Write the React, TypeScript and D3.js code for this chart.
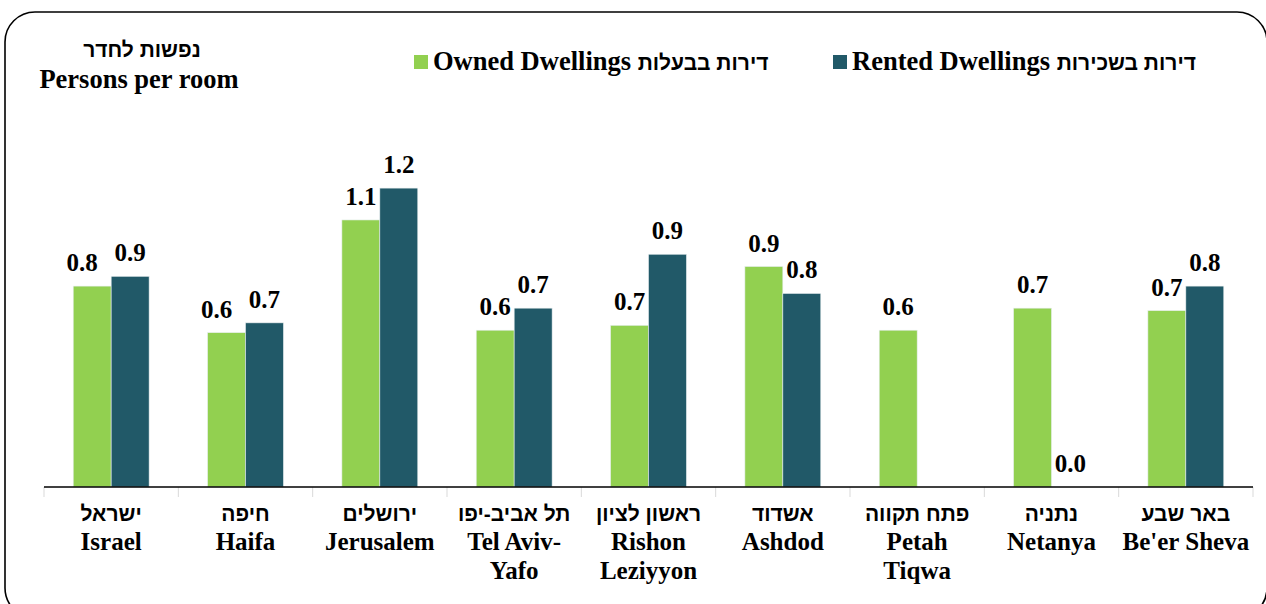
import React from "react";
import * as d3 from "d3";

const categoriesHe = ["ישראל", "חיפה", "ירושלים", "תל אביב-יפו", "ראשון לציון", "אשדוד", "פתח תקווה", "נתניה", "באר שבע"];
const categoriesEn = [["Israel"], ["Haifa"], ["Jerusalem"], ["Tel Aviv-", "Yafo"], ["Rishon", "Leziyyon"], ["Ashdod"], ["Petah", "Tiqwa"], ["Netanya"], ["Be'er Sheva"]];
const ownedValues: number[] = [0.82, 0.63, 1.09, 0.64, 0.66, 0.9, 0.64, 0.73, 0.72];
const rentedValues: (number | null)[] = [0.86, 0.67, 1.22, 0.73, 0.95, 0.79, null, 0, 0.82];
const seriesKeys = ["owned", "rented"];
const legendEn = ["Owned Dwellings", "Rented Dwellings"];
const legendHe = ["דירות בבעלות", "דירות בשכירות"];
const titleHe = "נפשות  לחדר";
const titleEn = "Persons per room";

const W = 1266;
const H = 604;
const COLORS = ["#92D050", "#215968"];
const FONT = "'Liberation Serif', 'Times New Roman', serif";
const HFONT = "'Liberation Sans', Arial, sans-serif";

export default function App() {
  const x0 = d3.scaleBand<number>().domain(d3.range(categoriesHe.length)).range([44, 1253]).paddingInner(0).paddingOuter(0);
  const x1 = d3.scaleBand<string>().domain(seriesKeys).range([0, x0.bandwidth()]).paddingInner(0).paddingOuter(0.77);
  const y = d3.scaleLinear().domain([0, 1.4]).range([487, 487 - 1.4 * 245]);
  const fmt = d3.format(".1f");
  const fs = 25;
  const fsBig = 26.5;
  const hfs = 21;

  const bars: React.ReactNode[] = [];
  const labels: React.ReactNode[] = [];
  categoriesHe.forEach((_, i) => {
    const vals = [ownedValues[i], rentedValues[i]];
    vals.forEach((v, s) => {
      if (v === null || v === undefined) return;
      const bx = (x0(i) as number) + (x1(seriesKeys[s]) as number);
      const bw = x1.bandwidth();
      const top = y(v);
      if (v > 0) {
        bars.push(
          <rect key={`b${i}-${s}`} x={bx} y={top} width={bw} height={y(0) - top} fill={COLORS[s]} stroke="#e8eef0" strokeWidth={0.6} />
        );
      }
      let shift = 0;
      const other = vals[1];
      if (s === 0 && other !== null && other !== undefined && y(other) < top && top - y(other) < 15) shift = -10;
      labels.push(
        <text key={`l${i}-${s}`} x={bx + bw / 2 + shift} y={top - 15} textAnchor="middle" fontSize={fs} fontWeight="bold" fontFamily={FONT} fill="#000">
          {fmt(v)}
        </text>
      );
    });
  });

  const ticks = d3.range(categoriesHe.length + 1).map((i) => (i < categoriesHe.length ? (x0(i) as number) : 1253));

  return (
    <svg width={W} height={H} style={{ position: "absolute", left: 0, top: 0, background: "#fff" }}>
      <rect x={5} y={12} width={1262} height={606} rx={30} ry={30} fill="#fff" stroke="#000" strokeWidth={1.6} />
      <text x={142} y={57} textAnchor="middle" direction="rtl" fontSize={hfs} fontWeight="bold" fontFamily={HFONT}>{titleHe}</text>
      <text x={139} y={88} textAnchor="middle" fontSize={fsBig} fontWeight="bold" fontFamily={FONT}>{titleEn}</text>

      {legendEn.map((t, k) => {
        const lx = [414, 833][k];
        return (
          <g key={`lg${k}`}>
            <rect x={lx} y={55} width={14} height={14} fill={COLORS[k]} />
            <text x={lx + 19} y={70} fontSize={fsBig} fontWeight="bold" fontFamily={FONT} direction="ltr">
              {t + " "}
              <tspan fontFamily={HFONT} fontSize={hfs}>{legendHe[k]}</tspan>
            </text>
          </g>
        );
      })}

      {bars}
      {ticks.map((t, i) => (
        <line key={`t${i}`} x1={t} x2={t} y1={487} y2={497} stroke="#d9d9d9" strokeWidth={1} />
      ))}
      <line x1={44} x2={1253} y1={487} y2={487} stroke="#000" strokeWidth={1.5} />
      {labels}

      {categoriesHe.map((he, i) => {
        const cx = (x0(i) as number) + x0.bandwidth() / 2;
        return (
          <g key={`c${i}`}>
            <text x={cx} y={521} textAnchor="middle" direction="rtl" fontSize={hfs} fontWeight="bold" fontFamily={HFONT}>{he}</text>
            {categoriesEn[i].map((line, j) => (
              <text key={j} x={cx} y={550 + j * 29} textAnchor="middle" fontSize={fs} fontWeight="bold" fontFamily={FONT}>{line}</text>
            ))}
          </g>
        );
      })}
    </svg>
  );
}
